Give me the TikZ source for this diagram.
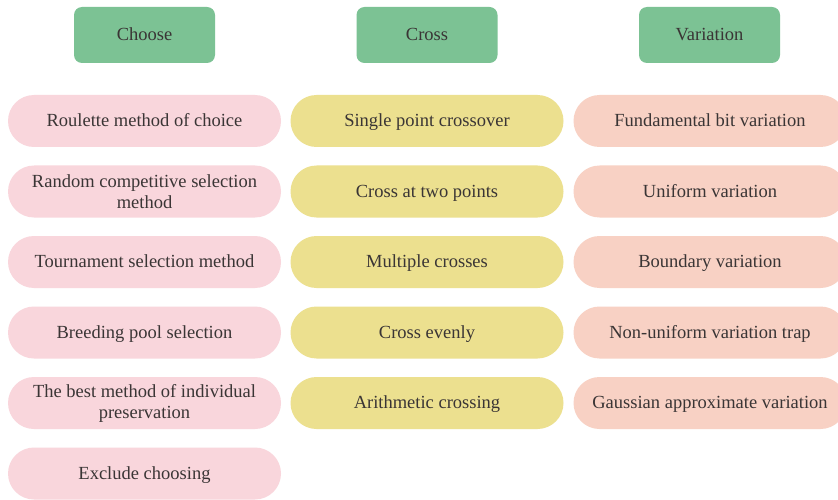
\documentclass[tikz,border=0pt]{standalone}
\usepackage{fontspec}
\setmainfont{Liberation Serif}
\definecolor{hdr}{HTML}{7CC294}
\definecolor{pinkc}{HTML}{F9D6DC}
\definecolor{yelc}{HTML}{ECE08F}
\definecolor{salc}{HTML}{F8D1C4}
\definecolor{txt}{HTML}{3A3535}
\tikzset{
  hdrbox/.style={fill=hdr, rounded corners=8pt, minimum width=141pt, minimum height=56pt, text=txt, font=\fontsize{18.5}{22}\selectfont, inner sep=0pt, text height=14pt, text depth=3pt},
  pillbase/.style={rounded corners=26pt, minimum width=273pt, minimum height=52pt, text=txt, align=center, font=\fontsize{18.5}{21}\selectfont, inner sep=0pt},
  pill/.style={pillbase, text height=14pt, text depth=3pt},
  pillA/.style={pill, fill=pinkc},
  pillB/.style={pill, fill=yelc},
  pillC/.style={pill, fill=salc},
  pillAA/.style={pillbase, fill=pinkc},
}
\begin{document}
\begin{tikzpicture}[x=1pt,y=-1pt]
\clip (0,0) rectangle (838,500);
\fill[white] (0,0) rectangle (838,500);
\node[hdrbox] (h1) at (144.5,35) {Choose};
\node[hdrbox] (h2) at (427,35) {Cross};
\node[hdrbox] (h3) at (709.5,35) {Variation};

\node[pillA] (a1) at (144.5,121) {Roulette method of choice};
\node[pillAA] (a2) at (144.5,191.5) {Random competitive selection\\method};
\node[pillA] (a3) at (144.5,262) {Tournament selection method};
\node[pillA] (a4) at (144.5,332.5) {Breeding pool selection};
\node[pillAA] (a5) at (144.5,403) {The best method of individual\\preservation};
\node[pillA] (a6) at (144.5,473.5) {Exclude choosing};

\node[pillB] (b1) at (427,121) {Single point crossover};
\node[pillB] (b2) at (427,191.5) {Cross at two points};
\node[pillB] (b3) at (427,262) {Multiple crosses};
\node[pillB] (b4) at (427,332.5) {Cross evenly};
\node[pillB] (b5) at (427,403) {Arithmetic crossing};

\node[pillC] (c1) at (710,121) {Fundamental bit variation};
\node[pillC] (c2) at (710,191.5) {Uniform variation};
\node[pillC] (c3) at (710,262) {Boundary variation};
\node[pillC] (c4) at (710,332.5) {Non-uniform variation trap};
\node[pillC] (c5) at (710,403) {Gaussian approximate variation};
\end{tikzpicture}
\end{document}
